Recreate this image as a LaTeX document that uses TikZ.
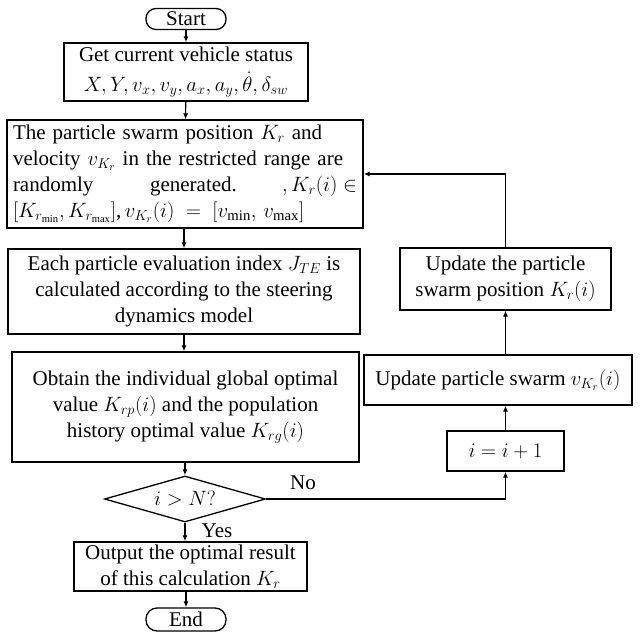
\documentclass[tikz,border=0pt]{standalone}
\usepackage{fontspec}
\setmainfont{Liberation Serif}
\usetikzlibrary{shapes.geometric,arrows.meta}
\begin{document}
\begin{tikzpicture}[x=1pt,y=-1pt,
  txt/.style={font=\fontsize{21}{26}\selectfont},
  box/.style={txt,draw,line width=1.3pt,inner sep=0pt,align=center},
  term/.style={box,rounded corners=10pt,minimum width=80pt,minimum height=21pt},
  dec/.style={txt,draw,line width=1.3pt,diamond,aspect=3.5,inner sep=0pt,minimum width=161pt,minimum height=46pt},
  arr/.style={line width=1.2pt,-{Latex[length=6pt,width=5pt]}},
  lab/.style={txt}]
\useasboundingbox (0,0) rectangle (641,633);

\node[term] (start) at (186,19) {Start};
\node[box,minimum width=244pt,minimum height=58pt] (get) at (186,72)
  {Get current vehicle status\\[4pt] $X,Y,v_x,v_y,a_x,a_y,\dot{\theta},\delta_{sw}$};
\node[box,minimum width=356pt,minimum height=108pt,text width=344pt,align=left] (part) at (185,174)
  {\makebox[\linewidth][s]{The particle swarm position $K_r$ and}\\
   \makebox[\linewidth][s]{velocity $v_{K_r}$ in the restricted range are}\\
   \makebox[\linewidth]{randomly\hspace{0pt plus 1fill}generated.\hspace{0pt plus 0.8fill}${,}\,K_r(i)\in$}\\
   \makebox[\linewidth][l]{$\left[K_{r_{\min}},K_{r_{\max}}\right]$,$\,v_{K_r}(i)\;=\;\bigl[v_{\min},\,v_{\max}\bigr]$}};
\node[box,minimum width=352pt,minimum height=85pt] (each) at (184,291.5)
  {Each particle evaluation index $J_{TE}$ is\\ calculated according to the steering\\ dynamics model};
\node[box,minimum width=347pt,minimum height=110pt] (obt) at (185.5,407)
  {Obtain the individual global optimal\\ value $K_{rp}(i)$ and the population\\ history optimal value $K_{rg}(i)$};
\node[dec] (cond) at (185,499) {$i>N?$};
\node[box,minimum width=233pt,minimum height=49pt] (out) at (190.5,566.5)
  {Output the optimal result\\ of this calculation $K_r$};
\node[term,minimum height=23pt,rounded corners=11pt] (end) at (186,619.5) {End};

\node[box,minimum width=211pt,minimum height=62pt] (pos) at (505.5,279)
  {Update the particle\\ swarm position $K_r(i)$};
\node[box,minimum width=268pt,minimum height=50pt] (vel) at (498,380)
  {Update particle swarm $v_{K_r}(i)$};
\node[box,minimum width=117pt,minimum height=40pt] (inc) at (505.5,451)
  {$i=i+1$};

\draw[arr] (start) -- (get);
\draw[arr] (get) -- (part);
\draw[arr] (part.south -| each.north) -- (each);
\draw[arr] (each.south) -- (obt.north -| each.south);
\draw[arr] (obt.south -| cond.north) -- (cond);
\draw[arr] (cond) -- (out.north -| cond.south);
\draw[arr] (out.south -| end.north) -- (end);
\draw[arr] (cond.east) -| (inc.south);
\draw[arr] (inc) -- (inc.north |- vel.south);
\draw[arr] (inc.north |- vel.north) -- (pos.south -| inc.north);
\draw[arr] (pos.north) |- (part.east);

\node[lab] (no) at (303,483) {No};
\node[lab] (yes) at (217,531) {Yes};
\end{tikzpicture}
\end{document}
